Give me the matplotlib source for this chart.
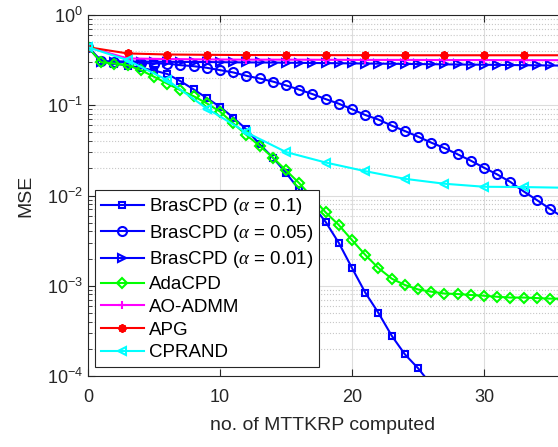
import matplotlib
matplotlib.use("Agg")
import matplotlib.pyplot as plt
import numpy as np

plt.rcParams['font.family'] = ['Liberation Sans', 'DejaVu Sans']
plt.rcParams['mathtext.fontset'] = 'custom'
plt.rcParams['mathtext.it'] = 'Liberation Serif:italic'
plt.rcParams['mathtext.rm'] = 'Liberation Sans'

# MSE の読み取り値 (x = MTTKRP 回数)
bras_01 = [0.44, 0.31, 0.29, 0.275, 0.26, 0.243, 0.222, 0.185, 0.150, 0.120,
           0.096, 0.073, 0.054, 0.037, 0.0263, 0.0178, 0.0116, 0.0078, 0.0051,
           0.00298, 0.00157, 0.00084, 0.0005, 0.00028, 0.000174, 0.000122, 0.00008]
bras_005 = [0.44, 0.31, 0.305, 0.30, 0.295, 0.29, 0.29, 0.278, 0.271, 0.26,
            0.245, 0.231, 0.212, 0.198, 0.183, 0.166, 0.149, 0.133, 0.117, 0.104,
            0.0903, 0.078, 0.0694, 0.0595, 0.0518, 0.0449, 0.0385, 0.0336, 0.0286,
            0.0243, 0.0203, 0.0171, 0.0141, 0.0111, 0.0089, 0.0071, 0.0057]
bras_001 = [0.44, 0.30, 0.305, 0.305, 0.305, 0.304, 0.303, 0.302, 0.302, 0.301,
            0.30, 0.299, 0.298, 0.298, 0.297, 0.296, 0.295, 0.294, 0.293, 0.292,
            0.291, 0.29, 0.289, 0.288, 0.287, 0.286, 0.285, 0.284, 0.283, 0.282,
            0.281, 0.28, 0.279, 0.278, 0.277, 0.276, 0.275]
adacpd = [0.44, 0.30, 0.29, 0.278, 0.245, 0.207, 0.174, 0.147, 0.126, 0.105,
          0.085, 0.063, 0.0468, 0.0355, 0.0263, 0.019, 0.0137, 0.0095, 0.0065,
          0.0047, 0.0032, 0.0022, 0.00157, 0.0012, 0.00102, 0.00091, 0.00086,
          0.00082, 0.00081, 0.00079, 0.000775, 0.000755, 0.00074, 0.00074,
          0.00073, 0.00072, 0.00072]
# 3 回ごとの系列
ao_admm = [0.44, 0.33, 0.325, 0.322, 0.32, 0.32, 0.319, 0.318, 0.318, 0.317,
           0.317, 0.316, 0.316]
apg = [0.44, 0.375, 0.365, 0.362, 0.36, 0.36, 0.359, 0.359, 0.358, 0.358,
       0.358, 0.358, 0.358]
cprand = [0.44, 0.316, 0.19, 0.092, 0.05, 0.0303, 0.0232, 0.0186, 0.0153,
          0.0135, 0.0125, 0.0124, 0.0122]

x_tick_vals = [0, 10, 20, 30]
y_tick_vals = [1e-4, 1e-3, 1e-2, 1e-1, 1e0]

fig = plt.figure(figsize=(5.58, 4.47), dpi=100)
ax = fig.add_axes([88 / 558, 1 - 376 / 447, 1 - 88 / 558, 361 / 447])

def kw(ms):
    return dict(linewidth=1.5, markersize=ms, markerfacecolor='none', markeredgewidth=1.5)

blue = (0, 0, 1)
ax.plot(np.arange(len(bras_01)), bras_01, 's-', color=blue, label=r'BrasCPD ($\alpha$ = 0.1)', **kw(5))
ax.plot(np.arange(len(bras_005)), bras_005, 'o-', color=blue, label=r'BrasCPD ($\alpha$ = 0.05)', **kw(6.5))
ax.plot(np.arange(len(bras_001)), bras_001, '>-', color=blue, label=r'BrasCPD ($\alpha$ = 0.01)', **kw(6))
ax.plot(np.arange(len(adacpd)), adacpd, 'D-', color=(0, 1, 0), label='AdaCPD', **kw(5))
x3 = np.arange(0, 3 * len(apg), 3)
ax.plot(x3, ao_admm, '+-', color=(1, 0, 1), label='AO-ADMM', **kw(6))
ax.plot(x3, apg, '-', marker=(8, 2, 0), color=(1, 0, 0), label='APG', **kw(6))
ax.plot(x3, cprand, '<-', color=(0, 1, 1), label='CPRAND', **kw(6))

ax.set_yscale('log')
ax.set_ylim(1e-4, 1)
ax.set_xlim(0, 35.6)
ax.set_xticks(x_tick_vals)
ax.set_yticks(y_tick_vals)
ax.grid(True, which='major', color='#dcdcdc', linewidth=0.8)
ax.grid(True, which='minor', axis='y', color='#c8c8c8', linestyle=':', linewidth=0.8)
ax.set_axisbelow(True)
ax.tick_params(which='both', direction='in', top=True, right=False, labelsize=13, colors='#262626')
ax.tick_params(which='major', length=5)
ax.tick_params(which='minor', length=3)
ax.tick_params(axis='x', pad=9)
ax.spines['right'].set_visible(False)
for s in ['left', 'top', 'bottom']:
    ax.spines[s].set_color('#262626')

ax.set_xlabel('no. of MTTKRP computed', fontsize=14, color='#262626', labelpad=8)
ax.set_ylabel('MSE', fontsize=14, color='#262626', labelpad=9)

leg = ax.legend(loc='lower left', bbox_to_anchor=(0.015, 0.025), borderaxespad=0,
                fontsize=13.5, fancybox=False, edgecolor='#262626', framealpha=1,
                handlelength=2.3, handletextpad=0.3, borderpad=0.3, labelspacing=0.3)
leg.get_frame().set_linewidth(0.8)

fig.savefig('out.png', dpi=100)
